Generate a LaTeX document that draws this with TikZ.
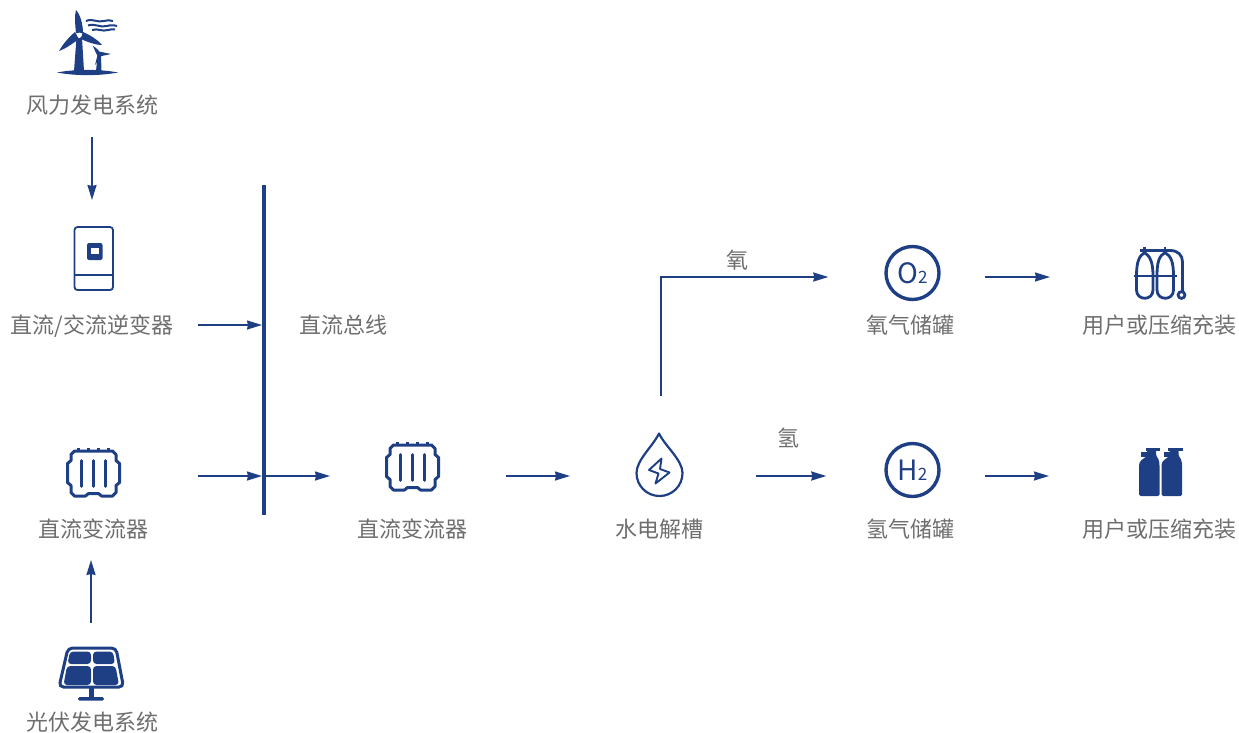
\documentclass[tikz,border=0pt]{standalone}
\usepackage{fontspec}
\setmainfont{Noto Sans CJK SC}
\usetikzlibrary{arrows.meta}
\definecolor{linkblue}{HTML}{1F3F85}
\definecolor{textgray}{HTML}{6E6E6E}
\tikzset{
	pics/converter/.style={code={
		\draw[linkblue,line width=3pt,line join=round] (-19,-22.5) -- (19,-22.5) -- (22.5,-19) -- (22.5,-13) -- (26,-10) -- (26,9) -- (22.5,12) -- (22.5,19) -- (19,22.5) -- (8,22.5) -- (5,20) -- (-5,20) -- (-8,22.5) -- (-19,22.5) -- (-22.5,19) -- (-22.5,12) -- (-26,9) -- (-26,-10) -- (-22.5,-13) -- (-22.5,-19) -- cycle;
		\foreach \px in {-15,-5,5,15}
			\draw[linkblue,line width=2.2pt] (\px,-22.5) -- (\px,-26);
		\foreach \px in {-12,0,12}
			\draw[linkblue,line width=2.6pt,line cap=round] (\px,-13) -- (\px,13);
	}}
}
\begin{document}
\begin{tikzpicture}[x=1pt,y=-1pt]
	\tikzstyle{lbl} = [inner sep=0pt,outer sep=0pt,text=textgray,font=\fontsize{22}{24}\selectfont,text height=19pt,text depth=3pt]
	\tikzstyle{box} = [inner sep=0pt,outer sep=0pt,minimum width=#1,minimum height=52pt]
	\tikzstyle{gasring} = [draw=linkblue,circle,line width=3.4pt,inner sep=0pt,outer sep=1.7pt,minimum size=53pt,text=linkblue,font=\fontsize{28}{30}\selectfont]
	\tikzstyle{flow} = [draw=linkblue,line width=1.9pt,-{Stealth[length=15pt,width=9pt,inset=1pt]}]
	\tikzstyle{icon} = [linkblue,line width=2.2pt]
	\useasboundingbox (0,0) rectangle (1239,732);

	% labels
	\node[lbl] at (92,105) (lwind) {风力发电系统};
	\node[lbl] at (92,325) (linv) {直流/交流逆变器};
	\node[lbl] at (343,325) (lbus) {直流总线};
	\node[lbl] at (93,529) (lconv) {直流变流器};
	\node[lbl] at (412,529) (lconvb) {直流变流器};
	\node[lbl] at (659,529) (lcell) {水电解槽};
	\node[lbl] at (910,325) (lotank) {氧气储罐};
	\node[lbl] at (910,529) (lhtank) {氢气储罐};
	\node[lbl] at (1159,325) (louser) {用户或压缩充装};
	\node[lbl] at (1159,529) (lhuser) {用户或压缩充装};
	\node[lbl] at (92,722) (lpv) {光伏发电系统};
	\node[lbl] at (737,260) (loxy) {氧};
	\node[lbl] at (788,438) (lhyd) {氢};

	% icon boxes
	\node[box=40pt,minimum height=64pt] at (93.5,259) (inv) {};
	\node[box=54pt] at (93,476) (conv) {};
	\node[box=54pt] at (412,476) (convb) {};
	\node[box=50pt,minimum height=86pt] at (661,476) (cell) {};
	\node[box=54pt] at (1160,277) (ouser) {};
	\node[box=44pt] at (1160,476) (huser) {};
	\node[box=66pt,minimum height=52pt] at (91,673) (pv) {};
	\node[gasring] at (912.5,273) (otank) {O{\fontsize{17}{17}\selectfont 2}};
	\node[gasring] at (912.5,470) (htank) {H{\fontsize{17}{17}\selectfont 2}};
	\node[fill=linkblue,inner sep=0pt,outer sep=0pt,minimum width=4pt,minimum height=330pt] at (264,350) (bus) {};

	% wind turbine
	\begin{scope}[linkblue]
		\fill (57,72.5) .. controls (75,69) and (100,69) .. (118,72.5) .. controls (100,76) and (75,76) .. (57,72.5);
		\fill (76.5,38) -- (82,38) -- (84,71) -- (74,71) -- cycle;
		\fill (76,10) .. controls (80,14) and (83,24) .. (83,33) -- (76,33) .. controls (75,24) and (74.5,15) .. (76,10);
		\fill (59,51) .. controls (63,44) and (69,37) .. (75,32) -- (79,39) .. controls (72,44) and (65,49) .. (59,51);
		\fill (102,45) .. controls (96,45) and (87,42) .. (80,38.5) -- (83,32) .. controls (90,35) and (98,40) .. (102,45);
		\fill[white] (79.5,35) circle (2.4pt);
		\fill (97.5,56) -- (101,56) -- (101.5,71) -- (96,71) -- cycle;
		\fill (93,46) .. controls (97,48) and (100,52) .. (101.5,55) -- (98,57) .. controls (96,53) and (94,49) .. (93,46);
		\fill (111,54) -- (99,51.5) -- (99.5,56.5) -- cycle;
		\fill (95,65) -- (97.5,55) -- (101,57) -- cycle;
		\draw[line width=2pt] (86,21) .. controls (93,18) and (97,23) .. (104,21) .. controls (107,20) and (110,20) .. (113,21);
		\draw[line width=2pt] (88,25.5) .. controls (95,23) and (100,28) .. (107,26) .. controls (110,25) and (114,25) .. (117,26);
		\draw[line width=2pt] (92,30) .. controls (98,28) and (102,32) .. (108,30) .. controls (110,29.5) and (113,29) .. (115,29.5);
	\end{scope}

	% inverter
	\draw[linkblue,line width=1.8pt,rounded corners=3pt] (74.5,227) rectangle (113,290);
	\draw[linkblue,line width=1.8pt] (74.5,275) -- (113,275);
	\fill[linkblue,rounded corners=2pt] (87,243) rectangle (102.5,260);
	\fill[white] (90.5,248) rectangle (99,254);

	% converters
	\pic at (93.5,473.5) {converter};
	\pic at (412.5,467.5) {converter};

	% electrolysis cell
	\draw[icon,line join=round] (659,433.5) .. controls (653,446) and (636.5,460) .. (636.5,473) .. controls (636.5,486) and (647,496) .. (659.5,496) .. controls (672,496) and (682.5,486) .. (682.5,473) .. controls (682.5,460) and (665,446) .. cycle;
	\draw[linkblue,line width=1.9pt,line join=round] (661.5,458.5) -- (649,470) -- (658.5,473.5) -- (655.5,483.5) -- (669.5,472.5) -- (660,469) -- cycle;

	% oxygen cylinders
	\begin{scope}[linkblue,line width=2.8pt]
		\draw (1136.5,276) .. controls (1136.5,262) and (1139,256) .. (1144.5,252.5) .. controls (1150,256) and (1153,262) .. (1153,276) -- (1153,290) .. controls (1153,301) and (1136.5,301) .. (1136.5,290) -- cycle;
		\draw (1157,276) .. controls (1157,262) and (1159,256) .. (1165,252.5) .. controls (1171,256) and (1173.5,262) .. (1173.5,276) -- (1173.5,290) .. controls (1173.5,301) and (1157,301) .. (1157,290) -- cycle;
		\draw (1134,276) -- (1177,276);
		\draw (1140,250.5) -- (1170,250.5) .. controls (1178,250.5) and (1182.5,255) .. (1182.5,262) -- (1182.5,291);
		\draw (1144.5,247) -- (1144.5,253);
		\draw (1165,247) -- (1165,253);
		\draw (1181.5,295) circle (3.4pt);
	\end{scope}

	% hydrogen cylinders
	\foreach \bx in {0,22.5} {
		\begin{scope}[shift={(\bx,0)}]
			\fill[linkblue,rounded corners=1.5pt] (1147,450) -- (1156,450) -- (1156,456) .. controls (1158,458) and (1159.5,461) .. (1159.5,467) -- (1159.5,496) -- (1139,496) -- (1139,467) .. controls (1139,461) and (1143,459) .. (1147,456) -- cycle;
			\fill[linkblue] (1145.5,447.5) rectangle (1160,450.5);
			\fill[linkblue] (1141,452) rectangle (1148,456.5);
		\end{scope}
	}

	% solar panel
	\draw[linkblue,line width=3pt,rounded corners=4.5pt] (68,648) -- (116,648) -- (123.5,687) -- (59,687) -- cycle;
	\fill[linkblue,rounded corners=3.5pt] (70,651.5) -- (91,651.5) -- (91,664) -- (67.5,664) -- cycle;
	\fill[linkblue,rounded corners=3.5pt] (93,651.5) -- (113,651.5) -- (115,664) -- (93,664) -- cycle;
	\fill[linkblue,rounded corners=3.5pt] (67,666) -- (91,666) -- (91,685) -- (63.5,685) -- cycle;
	\fill[linkblue,rounded corners=3.5pt] (93,666) -- (115.5,666) -- (119,685) -- (93,685) -- cycle;
	\fill[linkblue] (89,688) rectangle (93.5,698);
	\fill[linkblue,rounded corners=1.5pt] (78,697) rectangle (104,700.5);

	% connectors
	\draw[flow,shorten <=21pt,shorten >=27pt] (lwind.south) -- (lwind.south |- inv.north);
	\draw[flow,shorten <=24pt,shorten >=20pt] (pv.north) -- (pv.north |- lconv.south);
	\draw[flow,shorten <=25pt] (linv.east) -- (linv.east -| bus.west);
	\draw[flow,shorten <=78pt] (conv.east) -- (conv.east -| bus.west);
	\draw[flow,shorten >=55pt] (conv -| bus.east) -- (convb.west);
	\draw[flow,shorten <=67pt,shorten >=66pt] (convb.east) -- (cell.west);
	\draw[flow,shorten <=70pt,shorten >=58pt] (cell.east) -- (cell.east -| htank.west);
	\draw[flow,shorten <=44pt,shorten >=89pt] (cell.east -| htank.east) -- (huser.west);
	\draw[flow,shorten <=37pt,shorten >=56pt] (cell.north) |- (ouser -| otank.west);
	\draw[flow,shorten <=44pt,shorten >=83pt] (ouser -| otank.east) -- (ouser.west);
\end{tikzpicture}
\end{document}
